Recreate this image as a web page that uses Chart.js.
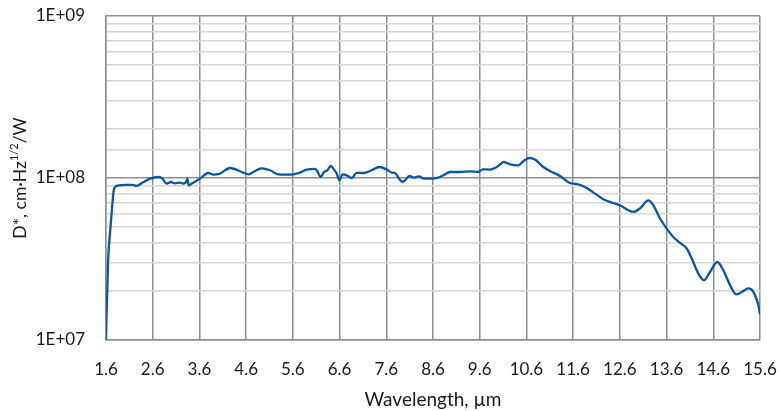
<!DOCTYPE html>
<html>
<head>
<meta charset="utf-8">
<script src="https://cdn.jsdelivr.net/npm/chart.js@4.4.1/dist/chart.umd.min.js"></script>
<style>
  html, body { margin: 0; padding: 0; background: #ffffff; }
  #wrap { width: 779px; height: 411px; position: relative; }
</style>
</head>
<body>
<div id="wrap"><canvas id="c"></canvas></div>
<script>
// Wavelength, µm
const wavelength = [1.6, 1.61, 1.628, 1.643, 1.696, 1.743, 1.765, 1.814, 1.90, 2.03, 2.157, 2.257, 2.392, 2.542, 2.713, 2.80, 2.90, 2.99, 3.077, 3.184, 3.255, 3.313, 3.341, 3.371, 3.435, 3.612, 3.79, 3.897, 4.04, 4.255, 4.539, 4.646, 4.753, 4.933, 5.111, 5.289, 5.469, 5.61, 5.753, 5.897, 6.074, 6.124, 6.197, 6.267, 6.338, 6.41, 6.481, 6.539, 6.595, 6.667, 6.753, 6.86, 6.967, 7.108, 7.288, 7.451, 7.61, 7.716, 7.787, 7.858, 7.943, 8.001, 8.093, 8.194, 8.307, 8.393, 8.573, 8.714, 8.821, 8.965, 9.179, 9.393, 9.571, 9.665, 9.821, 9.928, 10.035, 10.106, 10.249, 10.427, 10.534, 10.662, 10.784, 10.962, 11.105, 11.319, 11.533, 11.711, 11.891, 12.069, 12.247, 12.461, 12.64, 12.782, 12.889, 13.032, 13.21, 13.317, 13.46, 13.604, 13.745, 13.889, 14.032, 14.139, 14.28, 14.402, 14.531, 14.687, 14.816, 14.959, 15.088, 15.21, 15.351, 15.458, 15.565, 15.6];
// D* in units of 1E+08 cm·Hz^1/2/W
const detectivityE8 = [0.100, 0.139, 0.203, 0.298, 0.497, 0.728, 0.840, 0.889, 0.901, 0.908, 0.908, 0.895, 0.941, 0.991, 1.014, 0.996, 0.924, 0.945, 0.927, 0.937, 0.924, 0.941, 0.991, 0.901, 0.924, 0.991, 1.074, 1.049, 1.065, 1.153, 1.080, 1.054, 1.089, 1.148, 1.116, 1.054, 1.049, 1.054, 1.080, 1.127, 1.137, 1.100, 1.014, 1.089, 1.116, 1.186, 1.127, 1.065, 0.968, 1.054, 1.039, 1.000, 1.077, 1.074, 1.116, 1.169, 1.127, 1.080, 1.074, 1.006, 0.945, 0.968, 1.029, 1.006, 1.024, 0.991, 0.991, 1.006, 1.039, 1.089, 1.089, 1.100, 1.089, 1.132, 1.127, 1.153, 1.210, 1.255, 1.215, 1.198, 1.268, 1.329, 1.299, 1.169, 1.105, 1.029, 0.931, 0.914, 0.868, 0.801, 0.739, 0.701, 0.669, 0.632, 0.617, 0.650, 0.728, 0.678, 0.562, 0.487, 0.432, 0.397, 0.367, 0.318, 0.257, 0.234, 0.263, 0.303, 0.269, 0.218, 0.191, 0.198, 0.208, 0.198, 0.164, 0.144];
const xTickValues = [1.6, 2.6, 3.6, 4.6, 5.6, 6.6, 7.6, 8.6, 9.6, 10.6, 11.6, 12.6, 13.6, 14.6, 15.6];
const yMajorTicks = [1e7, 1e8, 1e9];
const yMajorLabels = ['1E+07', '1E+08', '1E+09'];
const xTitle = 'Wavelength, \u00B5m';
const yTitleParts = ['D*, cm\u00B7Hz', '1/2', '/W'];

const FONT = 'Lato, "Open Sans", sans-serif';
const TEXT = '#1a1a1a';
const DARK_GRID = '#8f8f8f';
const LIGHT_GRID = '#d6d6d6';

const points = wavelength.map((w, i) => ({ x: w, y: detectivityE8[i] * 1e8 }));

function isDecade(v) {
  const l = Math.log10(v);
  return Math.abs(l - Math.round(l)) < 1e-9;
}

const yTitlePlugin = {
  id: 'yTitle',
  afterDraw(chart) {
    const ctx = chart.ctx;
    const area = chart.chartArea;
    const cy = (area.top + area.bottom) / 2;
    const cx = 20;
    ctx.save();
    ctx.translate(cx, cy);
    ctx.rotate(-Math.PI / 2);
    ctx.fillStyle = TEXT;
    ctx.textBaseline = 'middle';
    ctx.textAlign = 'left';
    const big = '17.5px ' + FONT;
    const small = '11px ' + FONT;
    ctx.font = big;
    const w0 = ctx.measureText(yTitleParts[0]).width;
    const w2 = ctx.measureText(yTitleParts[2]).width;
    ctx.font = small;
    const w1 = ctx.measureText(yTitleParts[1]).width;
    const total = w0 + w1 + w2;
    let x = -total / 2;
    ctx.font = big;
    ctx.fillText(yTitleParts[0], x, 0);
    x += w0;
    ctx.font = small;
    ctx.fillText(yTitleParts[1], x, -6);
    x += w1;
    ctx.font = big;
    ctx.fillText(yTitleParts[2], x, 0);
    ctx.restore();
  }
};

new Chart(document.getElementById('c'), {
  type: 'line',
  data: {
    datasets: [{
      data: points,
      borderColor: '#0b56a0',
      borderWidth: 2.3,
      pointRadius: 0,
      fill: false,
      cubicInterpolationMode: 'monotone'
    }]
  },
  plugins: [yTitlePlugin],
  options: {
    responsive: true,
    maintainAspectRatio: false,
    animation: false,
    layout: { padding: { top: 16, right: 19, left: 0, bottom: 0 } },
    plugins: { legend: { display: false }, tooltip: { enabled: false } },
    scales: {
      x: {
        type: 'linear',
        min: 1.6,
        max: 15.6,
        afterBuildTicks(scale) { scale.ticks = xTickValues.map(v => ({ value: v })); },
        afterFit(scale) { scale.height = 71; scale.paddingLeft = 0; scale.paddingRight = 0; },
        ticks: {
          autoSkip: false,
          maxRotation: 0,
          padding: 19,
          color: TEXT,
          font: { family: FONT, size: 17 },
          callback: (v) => Number(v).toFixed(1)
        },
        grid: { color: DARK_GRID, lineWidth: 1.5, drawTicks: false },
        border: { color: DARK_GRID, width: 1.5 },
        title: {
          display: true,
          text: xTitle,
          color: TEXT,
          font: { family: FONT, size: 19 },
          padding: { top: 0, bottom: 0 }
        }
      },
      y: {
        type: 'logarithmic',
        min: 1e7,
        max: 1e9,
        afterFit(scale) { scale.width = 106; scale.paddingTop = 0; scale.paddingBottom = 0; },
        ticks: {
          autoSkip: false,
          padding: 21,
          color: TEXT,
          font: { family: FONT, size: 17 },
          callback: (v) => {
            const i = yMajorTicks.findIndex(t => Math.abs(t - v) / t < 1e-6);
            return i >= 0 ? yMajorLabels[i] : '';
          }
        },
        grid: {
          drawTicks: false,
          lineWidth: 1.5,
          color: (ctx) => (ctx.tick && isDecade(ctx.tick.value)) ? DARK_GRID : LIGHT_GRID
        },
        border: { color: DARK_GRID, width: 1.5 }
      }
    }
  }
});
</script>
</body>
</html>
